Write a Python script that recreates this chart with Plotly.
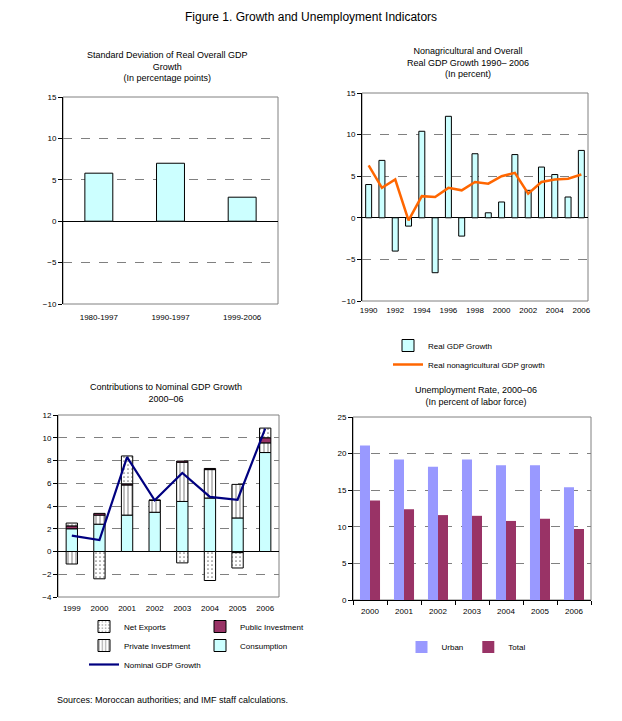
import plotly.graph_objects as go

W, H = 622, 721

# ---------------- data ----------------
# Panel 1: standard deviation of real overall GDP growth
sd_periods = ["1980-1997", "1990-1997", "1999-2006"]
sd_values = [5.8, 7.0, 2.9]

# Panel 2: nonagricultural and overall real GDP growth
years_a = list(range(1990, 2007))
real_gdp_growth = [4.0, 6.9, -4.0, -1.0, 10.4, -6.6, 12.2, -2.2, 7.7, 0.6,
                   1.9, 7.6, 3.3, 6.1, 5.2, 2.5, 8.1]
nonag_growth = [6.3, 3.6, 4.6, -0.3, 2.6, 2.5, 3.6, 3.3, 4.3, 4.1,
                5.0, 5.4, 2.9, 4.3, 4.6, 4.7, 5.2]
year_ticks_a = [1990, 1992, 1994, 1996, 1998, 2000, 2002, 2004, 2006]

# Panel 3: contributions to nominal GDP growth
years_b = ["1999", "2000", "2001", "2002", "2003", "2004", "2005", "2006"]
consumption = [2.0, 2.4, 3.2, 3.45, 4.4, 4.7, 2.95, 8.7]
private_inv = [-1.1, 0.8, 2.65, 1.05, 3.45, 2.5, 2.95, 0.85]
public_inv = [0.25, 0.15, 0.1, 0.0, 0.1, 0.1, -0.1, 0.45]
net_exports = [0.25, -2.4, 2.45, 0.0, -1.0, -2.55, -1.35, 0.85]
nominal_gdp = [1.4, 1.0, 8.3, 4.5, 6.9, 4.8, 4.55, 10.8]

# Panel 4: unemployment rate
years_c = ["2000", "2001", "2002", "2003", "2004", "2005", "2006"]
urban = [21.1, 19.2, 18.2, 19.2, 18.4, 18.4, 15.4]
total = [13.6, 12.4, 11.6, 11.5, 10.8, 11.1, 9.7]

# ---------------- helpers ----------------
FONT = "Liberation Sans, Arial, sans-serif"
CYAN = "#CCFFFF"
GRID = "#808080"


def dx(a, b):
    return [a / W, b / W]


def dy(top, bottom):
    return [1 - bottom / H, 1 - top / H]


def zero_pos(ydom, yrange):
    lo, hi = yrange
    return ydom[0] + (0 - lo) / (hi - lo) * (ydom[1] - ydom[0])


fig = go.Figure()

# Panel 1
fig.add_trace(go.Bar(x=sd_periods, y=sd_values, width=0.39,
                     marker=dict(color=CYAN, line=dict(color="black", width=1)),
                     showlegend=False, xaxis="x", yaxis="y"))

# Panel 2
fig.add_trace(go.Bar(x=years_a, y=real_gdp_growth, width=0.45, name="Real GDP Growth",
                     marker=dict(color=CYAN, line=dict(color="black", width=1)),
                     xaxis="x2", yaxis="y2", legend="legend"))
fig.add_trace(go.Scatter(x=years_a, y=nonag_growth, mode="lines",
                         name="Real nonagricultural GDP growth",
                         line=dict(color="#FF6600", width=2.5),
                         xaxis="x2", yaxis="y2", legend="legend"))

# Panel 3
fig.add_trace(go.Bar(x=years_b, y=consumption, width=0.41, name="Consumption",
                     marker=dict(color=CYAN, line=dict(color="black", width=1)),
                     xaxis="x3", yaxis="y3", legend="legend3", legendrank=2))
fig.add_trace(go.Bar(x=years_b, y=private_inv, width=0.41, name="Private Investment",
                     marker=dict(color="white", line=dict(color="black", width=1),
                                 pattern=dict(shape="|", fgcolor="black", bgcolor="white",
                                              size=4, solidity=0.25)),
                     xaxis="x3", yaxis="y3", legend="legend2", legendrank=2))
fig.add_trace(go.Bar(x=years_b, y=public_inv, width=0.41, name="Public Investment",
                     marker=dict(color="#993366", line=dict(color="black", width=1)),
                     xaxis="x3", yaxis="y3", legend="legend3", legendrank=1))
fig.add_trace(go.Bar(x=years_b, y=net_exports, width=0.41, name="Net Exports",
                     marker=dict(color="white", line=dict(color="black", width=1),
                                 pattern=dict(shape=".", fgcolor="black", bgcolor="white",
                                              size=4, solidity=0.15)),
                     xaxis="x3", yaxis="y3", legend="legend2", legendrank=1))
fig.add_trace(go.Scatter(x=years_b, y=nominal_gdp, mode="lines", name="Nominal GDP Growth",
                         line=dict(color="#000080", width=2.2),
                         xaxis="x3", yaxis="y3", legend="legend2", legendrank=3))

# Panel 4
fig.add_trace(go.Bar(x=years_c, y=urban, name="Urban", offsetgroup="u",
                     marker=dict(color="#9999FF", line=dict(width=0)),
                     xaxis="x4", yaxis="y4", legend="legend4"))
fig.add_trace(go.Bar(x=years_c, y=total, name="Total", offsetgroup="t",
                     marker=dict(color="#993366", line=dict(width=0)),
                     xaxis="x4", yaxis="y4", legend="legend4"))

# ---------------- axes ----------------
tickfont = dict(family=FONT, size=8, color="black")

xd1, yd1, yr1 = dx(63, 278), dy(97, 304), [-10, 15]
xd2, yd2, yr2 = dx(362, 588), dy(93, 301), [-10, 15]
xd3, yd3, yr3 = dx(58, 279), dy(415, 597), [-4, 12]
xd4, yd4, yr4 = dx(353, 591), dy(417, 600), [0, 25]


def yaxis(dom, rng, dtick, anchor):
    return dict(domain=dom, range=rng, dtick=dtick, anchor=anchor,
                showline=True, linecolor="black", linewidth=1,
                ticks="outside", ticklen=4, tickcolor="black", tickfont=tickfont,
                showgrid=True, gridcolor=GRID, griddash="dash", gridwidth=1,
                zeroline=True, zerolinecolor="black", zerolinewidth=1, fixedrange=True)


def xaxis_bottom(dom, anchor, **kw):
    d = dict(domain=dom, anchor=anchor, showline=False, showgrid=False, zeroline=False,
             ticks="", tickfont=tickfont, ticklabelstandoff=7)
    d.update(kw)
    return d


def zero_ticks(dom, overlay, rng, vals, pos):
    return dict(domain=dom, overlaying=overlay, anchor="free", position=pos,
                type="linear", range=rng, tickvals=vals, ticks="outside", ticklen=3,
                tickcolor="black", showticklabels=False, showline=False,
                showgrid=False, zeroline=False)


n1, n3 = len(sd_periods), len(years_b)

fig.update_layout(
    xaxis=xaxis_bottom(xd1, "y", type="category"),
    yaxis=yaxis(yd1, yr1, 5, "x"),
    xaxis2=xaxis_bottom(xd2, "y2", type="linear", range=[years_a[0] - 0.5, years_a[-1] + 0.5],
                        tickvals=year_ticks_a, ticklabelstandoff=3),
    yaxis2=yaxis(yd2, yr2, 5, "x2"),
    xaxis3=xaxis_bottom(xd3, "y3", type="category", ticklabelstandoff=5),
    yaxis3=yaxis(yd3, yr3, 2, "x3"),
    xaxis4=dict(domain=xd4, anchor="y4", type="category", showline=True, linecolor="black",
                ticks="outside", ticklen=4, tickcolor="black", tickson="boundaries",
                tickfont=tickfont, showgrid=False, zeroline=False, ticklabelstandoff=3),
    yaxis4=yaxis(yd4, yr4, 5, "x4"),
    xaxis5=zero_ticks(xd1, "x", [-0.5, n1 - 0.5], [i + 0.5 for i in range(n1 - 1)],
                      zero_pos(yd1, yr1)),
    xaxis6=zero_ticks(xd2, "x2", [years_a[0] - 0.5, years_a[-1] + 0.5],
                      [y + 0.5 for y in years_a[:-1]], zero_pos(yd2, yr2)),
    xaxis7=zero_ticks(xd3, "x3", [-0.5, n3 - 0.5], [i + 0.5 for i in range(n3 - 1)],
                      zero_pos(yd3, yr3)),
)

# plot-area borders
for xr, yr in [("x", "y"), ("x2", "y2"), ("x3", "y3"), ("x4", "y4")]:
    fig.add_shape(type="rect", xref=f"{xr} domain", yref=f"{yr} domain",
                  x0=0, x1=1, y0=0, y1=1, line=dict(color=GRID, width=1), layer="below")

# ---------------- titles & text ----------------
def note(text, xc, ytop, size=9, align="center", xanchor="center"):
    fig.add_annotation(text=text, x=xc / W, y=1 - ytop / H, xref="paper", yref="paper",
                       xanchor=xanchor, yanchor="top", showarrow=False, align=align,
                       font=dict(family=FONT, size=size, color="black"))


note("Figure 1. Growth and Unemployment Indicators", 311, 8, size=12)
note("Standard Deviation of Real Overall GDP<br>Growth<br>(In percentage points)", 167, 48)
note("Nonagricultural and Overall<br>Real GDP Growth 1990\u2013 2006<br>(In percent)", 468, 44)
note("Contributions to Nominal GDP Growth<br>2000\u201306", 166, 380)
note("Unemployment Rate, 2000\u201306<br>(In percent of labor force)", 476, 383)
note("Sources: Moroccan authorities; and IMF staff calculations.", 55, 693, xanchor="left")

legfont = dict(family=FONT, size=8, color="black")
fig.update_layout(
    width=W, height=H,
    margin=dict(l=0, r=0, t=0, b=0, autoexpand=False),
    paper_bgcolor="white", plot_bgcolor="white",
    barmode="relative", bargap=0.41, bargroupgap=0,
    font=dict(family=FONT, size=9, color="black"),
    legend=dict(x=388 / W, y=1 - 331 / H, xanchor="left", yanchor="top",
                bgcolor="rgba(0,0,0,0)", font=legfont, tracegroupgap=0),
    legend2=dict(x=84 / W, y=1 - 612 / H, xanchor="left", yanchor="top",
                 bgcolor="rgba(0,0,0,0)", font=legfont),
    legend3=dict(x=200 / W, y=1 - 612 / H, xanchor="left", yanchor="top",
                 bgcolor="rgba(0,0,0,0)", font=legfont),
    legend4=dict(x=466 / W, y=1 - 647 / H, xanchor="center", yanchor="middle",
                 orientation="h", bgcolor="rgba(0,0,0,0)", font=legfont),
)

fig.write_html("out.html", config={"displayModeBar": False},
               post_script="document.body.style.margin='0px';")
